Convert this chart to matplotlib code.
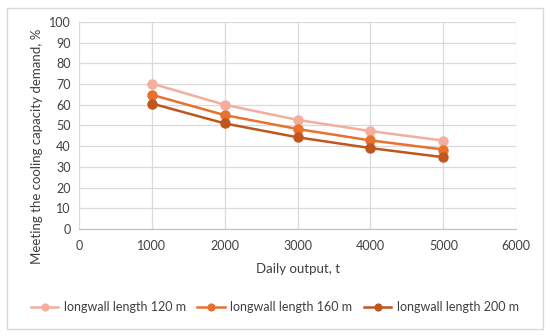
import matplotlib
matplotlib.use("Agg")
import matplotlib.pyplot as plt
from matplotlib.patches import FancyBboxPatch

plt.rcParams["font.family"] = ["Lato", "DejaVu Sans"]

output_t = [1000, 2000, 3000, 4000, 5000]
len_120 = [70.2, 60.0, 52.7, 47.3, 42.7]
len_160 = [64.8, 55.0, 48.3, 42.8, 38.4]
len_200 = [60.6, 51.0, 44.3, 39.1, 34.7]

series = [
    ("longwall length 120 m", len_120, "#F4AE9C"),
    ("longwall length 160 m", len_160, "#E8712D"),
    ("longwall length 200 m", len_200, "#C0551E"),
]

fig = plt.figure(figsize=(5.5, 3.36), dpi=100)
frame = FancyBboxPatch((0.012, 0.02), 0.976, 0.955, boxstyle="square,pad=0",
                       transform=fig.transFigure, fill=False,
                       edgecolor="#D9D9D9", linewidth=1.0)
fig.patches.append(frame)

ax = fig.add_axes([0.1436, 0.318, 0.795, 0.617])

for label, vals, color in series:
    ax.plot(output_t, vals, color=color, linewidth=1.8, marker="o",
            markersize=6.5, label=label)

ax.set_xlim(0, 6000)
ax.set_ylim(0, 100)
ax.set_xticks(range(0, 6001, 1000))
ax.set_yticks(range(0, 101, 10))
ax.grid(True, color="#D9D9D9", linewidth=0.9)
ax.set_axisbelow(True)
for side in ["top", "right", "left"]:
    ax.spines[side].set_visible(False)
ax.spines["bottom"].set_color("#BFBFBF")
ax.tick_params(length=0, labelsize=9, colors="#404040", pad=8)
ax.tick_params(axis="y", pad=6)

ax.set_xlabel("Daily output, t", fontsize=9.5, color="#404040", labelpad=8)
ax.set_ylabel("Meeting the cooling capacity demand, %", fontsize=9.5,
              color="#404040", labelpad=6)
ax.yaxis.set_label_coords(-0.082, 0.4)

fig.legend(loc="center", bbox_to_anchor=(0.5, 0.086), ncol=3, frameon=False,
           fontsize=9, handlelength=2.2, columnspacing=0.9, handletextpad=0.45,
           markerscale=0.75, labelcolor="#404040")

fig.savefig("out.png", dpi=100)
plt.close(fig)
